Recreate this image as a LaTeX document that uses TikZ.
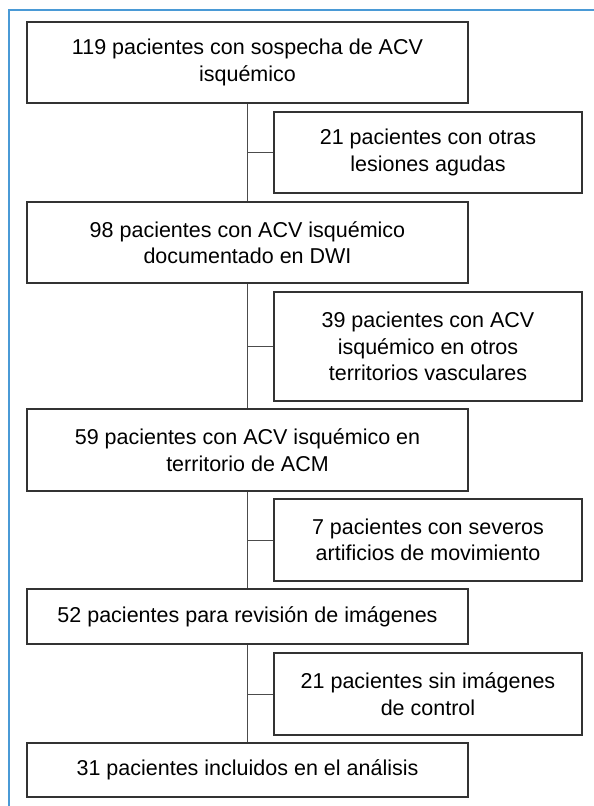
\documentclass[tikz,border=0pt]{standalone}
\usepackage{fontspec}
\setmainfont{Liberation Sans}
\usepackage{xcolor}
\usetikzlibrary{positioning}

\definecolor{frameblue}{HTML}{4A9AD6}
\definecolor{boxline}{HTML}{333333}

\tikzset{
  mainbox/.style={draw=boxline,line width=1.5pt,minimum width=441pt,inner sep=0pt,
    align=center,font=\fontsize{21.5}{26.5}\selectfont},
  sidebox/.style={draw=boxline,line width=1.5pt,minimum width=308pt,inner sep=0pt,
    align=center,font=\fontsize{21.5}{26.5}\selectfont},
  link/.style={draw=black!70,line width=1pt}
}

\begin{document}
\begin{tikzpicture}[x=1pt,y=-1pt]

			\useasboundingbox (0,0) rectangle (594,806);

			% frame
			\draw[frameblue,line width=1.5pt] (9,806) -- (9,10) -- (594,10);

			\node[mainbox,minimum height=81pt] (b1) at (247.5,62.5) {119 pacientes con sospecha de ACV\\isquémico};
			\node[sidebox,minimum height=81pt] (s1) at (428,152.5) {21 pacientes con otras\\lesiones agudas};
			\node[mainbox,minimum height=81pt] (b2) at (247.5,242.5) {98 pacientes con ACV isquémico\\documentado en DWI};
			\node[sidebox,minimum height=109pt] (s2) at (428,346.5) {39 pacientes con ACV\\isquémico en otros\\territorios vasculares};
			\node[mainbox,minimum height=82pt] (b3) at (247.5,450) {59 pacientes con ACV isquémico en\\territorio de ACM};
			\node[sidebox,minimum height=82pt] (s3) at (428,540) {7 pacientes con severos\\artificios de movimiento};
			\node[mainbox,minimum height=55pt] (b4) at (247.5,616.5) {52 pacientes para revisión de imágenes};
			\node[sidebox,minimum height=82pt] (s4) at (428,694) {21 pacientes sin imágenes\\de control};
			\node[mainbox,minimum height=54pt] (b5) at (247.5,770) {31 pacientes incluidos en el análisis};

			\draw[link] (b1.south) -- (b2.north);
			\draw[link] (b2.south) -- (b3.north);
			\draw[link] (b3.south) -- (b4.north);
			\draw[link] (b4.south) -- (b5.north);

			\draw[link] (b1.south |- s1.west) -- (s1.west);
			\draw[link] (b2.south |- s2.west) -- (s2.west);
			\draw[link] (b3.south |- s3.west) -- (s3.west);
			\draw[link] (b4.south |- s4.west) -- (s4.west);

		\end{tikzpicture}
\end{document}
